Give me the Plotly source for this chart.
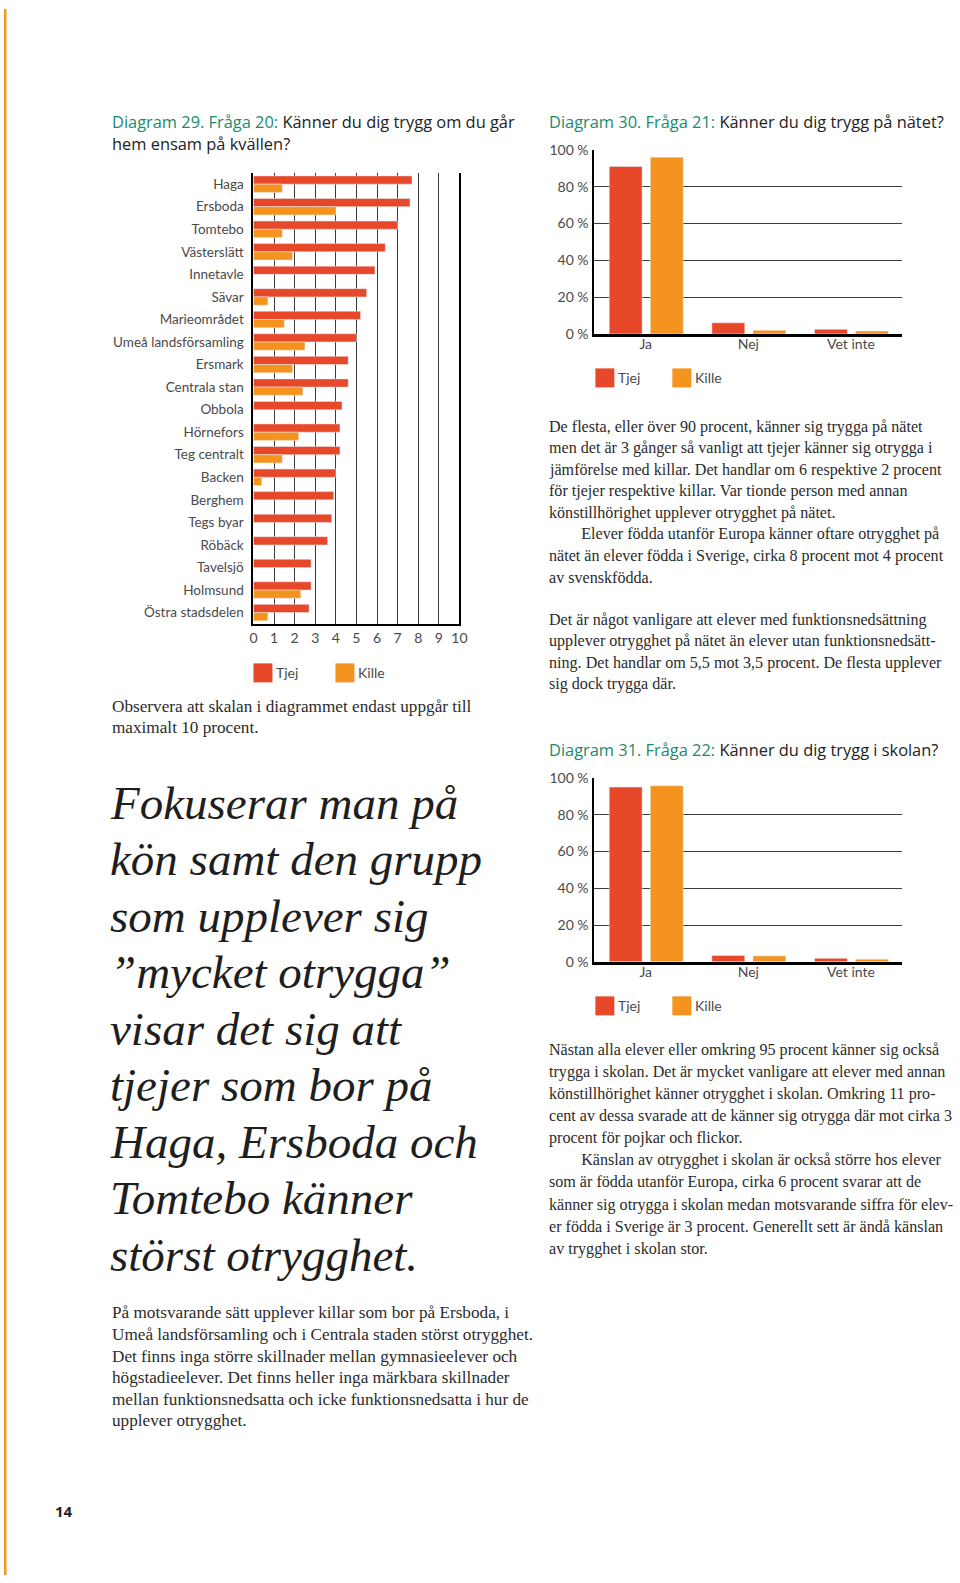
import plotly.graph_objects as go

W, H = 960, 1583

# ---------------- data ----------------
omraden = ["Haga", "Ersboda", "Tomtebo", "Västerslätt", "Innetavle", "Sävar",
           "Marieområdet", "Umeå landsförsamling", "Ersmark", "Centrala stan",
           "Obbola", "Hörnefors", "Teg centralt", "Backen", "Berghem", "Tegs byar",
           "Röbäck", "Tavelsjö", "Holmsund", "Östra stadsdelen"]
tjej_kvall = [7.7, 7.6, 7.0, 6.4, 5.9, 5.5, 5.2, 5.0, 4.6, 4.6,
              4.3, 4.2, 4.2, 4.0, 3.9, 3.8, 3.6, 2.8, 2.8, 2.7]
kille_kvall = [1.4, 4.0, 1.4, 1.9, 0, 0.7, 1.5, 2.5, 1.9, 2.4,
               0, 2.2, 1.4, 0.4, 0, 0, 0, 0, 2.3, 0.7]
x_ticks_kvall = list(range(0, 11))

svar = ["Ja", "Nej", "Vet inte"]
tjej_natet = [91, 6, 2.5]
kille_natet = [96, 2, 1.6]
tjej_skolan = [95, 3.5, 1.9]
kille_skolan = [95.7, 3.2, 1.4]
pct_ticks = [0, 20, 40, 60, 80, 100]
pct_labels = ["0 %", "20 %", "40 %", "60 %", "80 %", "100 %"]

TJEJ = "#E8482A"
KILLE = "#F5931F"
GREEN = "#1A8B6C"
GRID = "#3c3c3c"
SANS = "Lato"
TITLE_SANS = "Open Sans"
SERIF = "Liberation Serif"

# page-space helpers (target pixel positions on the page)
SX, OX = 0.9877, 3.5
SY, OY = 0.9893, 9.1


def px(x):
    return max(0.0, (x - OX) / SX) / W


def py(y):
    return 1 - ((y - OY) / SY) / H


fig = go.Figure()

# ---------- Diagram 29 ----------
fig.add_trace(go.Bar(x=tjej_kvall, y=omraden, orientation="h", marker_color=TJEJ,
                     name="Tjej", xaxis="x", yaxis="y"))
fig.add_trace(go.Bar(x=kille_kvall, y=omraden, orientation="h", marker_color=KILLE,
                     name="Kille", xaxis="x", yaxis="y"))

# ---------- Diagram 30 ----------
BW = 0.32
fig.add_trace(go.Bar(x=svar, y=tjej_natet, marker_color=TJEJ, width=BW, offset=-0.355,
                     xaxis="x2", yaxis="y2"))
fig.add_trace(go.Bar(x=svar, y=kille_natet, marker_color=KILLE, width=BW, offset=0.045,
                     xaxis="x2", yaxis="y2"))

# ---------- Diagram 31 ----------
fig.add_trace(go.Bar(x=svar, y=tjej_skolan, marker_color=TJEJ, width=BW, offset=-0.355,
                     xaxis="x3", yaxis="y3"))
fig.add_trace(go.Bar(x=svar, y=kille_skolan, marker_color=KILLE, width=BW, offset=0.045,
                     xaxis="x3", yaxis="y3"))

tickfont = dict(family=SANS, size=14, color="#4a4a4a")
catfont = dict(family=SANS, size=13.5, color="#4a4a4a")

fig.update_layout(
    width=W, height=H, margin=dict(l=0, r=0, t=0, b=0),
    paper_bgcolor="white", plot_bgcolor="white",
    showlegend=False, barmode="group", bargap=0.27, bargroupgap=0,
    xaxis=dict(domain=[px(253), px(459)], anchor="y", range=[0, 10],
               tickvals=x_ticks_kvall, showgrid=True, gridcolor=GRID, gridwidth=1.3,
               showline=True, linecolor="black", linewidth=2, zeroline=False,
               ticks="", tickfont=tickfont, fixedrange=True),
    yaxis=dict(domain=[py(624), py(173)], anchor="x", autorange="reversed",
               type="category", showgrid=False, showline=True, mirror=True,
               linecolor="black", linewidth=2, ticks="", tickfont=catfont,
               ticklabelstandoff=5),
    xaxis2=dict(domain=[px(594), px(902)], anchor="y2", type="category",
                range=[-0.5, 2.5], showgrid=False, showline=True, linecolor="black",
                linewidth=2.5, ticks="", tickfont=tickfont, ticklabelstandoff=-4),
    yaxis2=dict(domain=[py(334), py(150)], anchor="x2", range=[0, 100],
                tickvals=pct_ticks, ticktext=pct_labels, showgrid=True,
                gridcolor=GRID, gridwidth=1.3, showline=True, linecolor="black",
                linewidth=2, zeroline=False, ticks="", tickfont=tickfont,
                ticklabelstandoff=1),
    xaxis3=dict(domain=[px(594), px(902)], anchor="y3", type="category",
                range=[-0.5, 2.5], showgrid=False, showline=True, linecolor="black",
                linewidth=2.5, ticks="", tickfont=tickfont, ticklabelstandoff=-4),
    yaxis3=dict(domain=[py(962), py(778)], anchor="x3", range=[0, 100],
                tickvals=pct_ticks, ticktext=pct_labels, showgrid=True,
                gridcolor=GRID, gridwidth=1.3, showline=True, linecolor="black",
                linewidth=2, zeroline=False, ticks="", tickfont=tickfont,
                ticklabelstandoff=1),
)

shapes = []
annotations = []

# orange page edge
shapes.append(dict(type="rect", xref="paper", yref="paper", x0=0, x1=px(6),
                   y0=0, y1=1, fillcolor="#F7941D", line_width=0, layer="above"))


def legend(x_tjej, x_kille, yc, size=19):
    for x0, col, lab in [(x_tjej, TJEJ, "Tjej"), (x_kille, KILLE, "Kille")]:
        shapes.append(dict(type="rect", xref="paper", yref="paper",
                           x0=px(x0), x1=px(x0 + size), y0=py(yc + size / 2),
                           y1=py(yc - size / 2), fillcolor=col, line_width=0))
        annotations.append(dict(xref="paper", yref="paper", x=px(x0 + size + 2),
                                y=py(yc), text=lab, showarrow=False, xanchor="left",
                                yanchor="middle", font=dict(family=SANS, size=14,
                                                            color="#4a4a4a")))


legend(253, 335, 673)
legend(595, 672, 378)
legend(595, 672, 1006)


def text(x, y, s, size=16.1, family=SERIF, color="#2b2b2b"):
    annotations.append(dict(xref="paper", yref="paper", x=px(x), y=py(y), text=s,
                            showarrow=False, xanchor="left", yanchor="middle",
                            font=dict(family=family, size=size, color=color)))


def title(x, y, green, rest):
    text(x, y, f"<span style='color:{GREEN}'>{green}</span>{rest}",
         size=16.4, family=TITLE_SANS, color="#222222")


title(110, 122, "Diagram 29. Fråga 20:", " Känner du dig trygg om du går")
text(110, 144, "hem ensam på kvällen?", size=16.4, family=TITLE_SANS, color="#222222")
title(547, 122, "Diagram 30. Fråga 21:", " Känner du dig trygg på nätet?")
title(547, 750, "Diagram 31. Fråga 22:", " Känner du dig trygg i skolan?")

LEFT_SIZE = 17.2

# Left notes
text(110, 707, "Observera att skalan i diagrammet endast uppgår till", size=LEFT_SIZE)
text(110, 728, "maximalt 10 procent.", size=LEFT_SIZE)

quote = ["Fokuserar man på", "kön samt den grupp", "som upplever sig",
         "\u201dmycket otrygga\u201d", "visar det sig att", "tjejer som bor på",
         "Haga, Ersboda och", "Tomtebo känner", "störst otrygghet."]
for i, line in enumerate(quote):
    text(108, 803 + i * 56.5, f"<i>{line}</i>", size=47, color="#1e1e1e")

bottom = ["På motsvarande sätt upplever killar som bor på Ersboda, i",
          "Umeå landsförsamling och i Centrala staden störst otrygghet.",
          "Det finns inga större skillnader mellan gymnasieelever och",
          "högstadieelever. Det finns heller inga märkbara skillnader",
          "mellan funktionsnedsatta och icke funktionsnedsatta i hur de",
          "upplever otrygghet."]
for i, line in enumerate(bottom):
    text(110, 1313 + i * 21.6, line, size=LEFT_SIZE)

p30 = ["De flesta, eller över 90 procent, känner sig trygga på nätet",
       "men det är 3 gånger så vanligt att tjejer känner sig otrygga i",
       "jämförelse med killar. Det handlar om 6 respektive 2 procent",
       "för tjejer respektive killar. Var tionde person med annan",
       "könstillhörighet upplever otrygghet på nätet.",
       "\u2003\u2003Elever födda utanför Europa känner oftare otrygghet på",
       "nätet än elever födda i Sverige, cirka 8 procent mot 4 procent",
       "av svenskfödda."]
for i, line in enumerate(p30):
    text(547, 427 + i * 21.5, line)

p30b = ["Det är något vanligare att elever med funktionsnedsättning",
        "upplever otrygghet på nätet än elever utan funktionsnedsätt-",
        "ning. Det handlar om 5,5 mot 3,5 procent. De flesta upplever",
        "sig dock trygga där."]
for i, line in enumerate(p30b):
    text(547, 620 + i * 21.5, line)

p31 = ["Nästan alla elever eller omkring 95 procent känner sig också",
       "trygga i skolan. Det är mycket vanligare att elever med annan",
       "könstillhörighet känner otrygghet i skolan. Omkring 11 pro-",
       "cent av dessa svarade att de känner sig otrygga där mot cirka 3",
       "procent för pojkar och flickor.",
       "\u2003\u2003Känslan av otrygghet i skolan är också större hos elever",
       "som är födda utanför Europa, cirka 6 procent svarar att de",
       "känner sig otrygga i skolan medan motsvarande siffra för elev-",
       "er födda i Sverige är 3 procent. Generellt sett är ändå känslan",
       "av trygghet i skolan stor."]
for i, line in enumerate(p31):
    text(547, 1050 + i * 22.1, line)

# page number
annotations.append(dict(xref="paper", yref="paper", x=px(64), y=py(1511), text="<b>14</b>",
                        showarrow=False, xanchor="center", yanchor="middle",
                        font=dict(family=TITLE_SANS, size=15, color="#222222")))

fig.update_layout(shapes=shapes, annotations=annotations)
fig.write_html(
    "out.html",
    config={"displayModeBar": False},
    post_script="document.body.style.margin='0';document.body.style.padding='0';"
                "document.documentElement.style.overflow='hidden';",
)
